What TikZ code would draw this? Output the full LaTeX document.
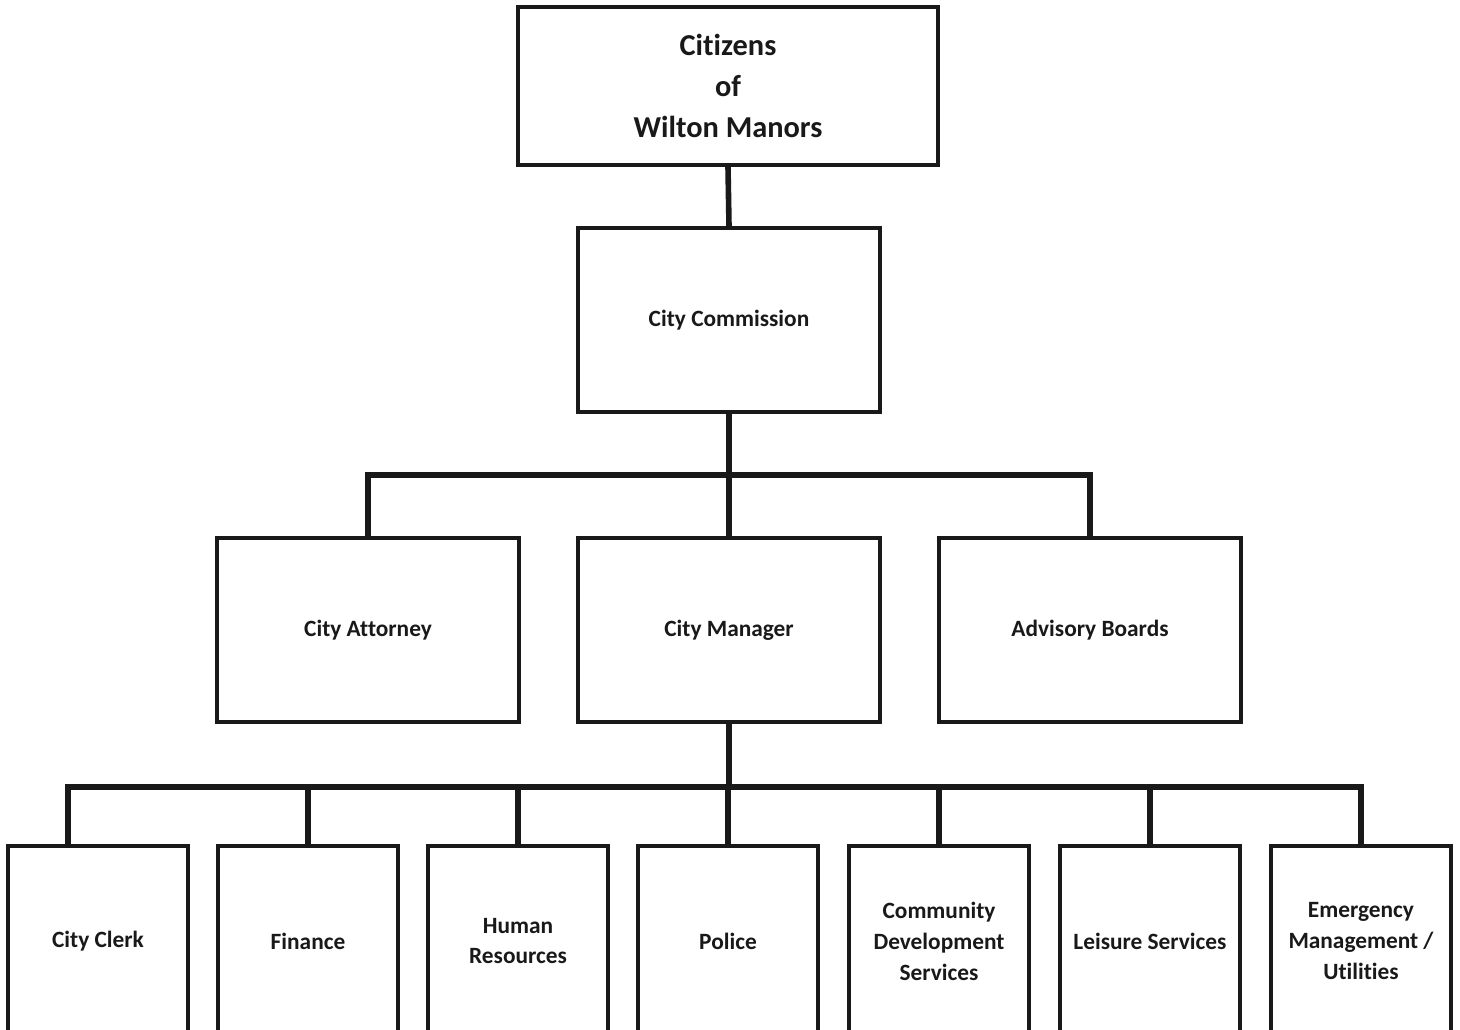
\documentclass[tikz,border=0pt]{standalone}
\usepackage{fontspec}
\setmainfont{Carlito}[Ligatures=NoCommon]
\usepackage{tikz}
\usetikzlibrary{calc}

\tikzset{
  box/.style={draw=black!90, text=black!90, line width=0.11cm, fill=white, align=center,
    font=\bfseries\fontsize{16.6}{22}\selectfont, inner sep=0pt},
  midbox/.style={box, minimum width=302*0.025cm, minimum height=184*0.025cm},
  deptbox/.style={box, minimum width=180*0.025cm, minimum height=190*0.025cm},
  link/.style={draw=black!90, line width=0.14cm}
}

\begin{document}
\begin{tikzpicture}[x=0.025cm,y=-0.025cm]
        \useasboundingbox (0,0) rectangle (1460,1030);
        \clip (0,0) rectangle (1460,1030);
        % top levels
        \node[box, minimum width=420*0.025cm, minimum height=158*0.025cm,
              font=\bfseries\fontsize{21.6}{29}\selectfont] (citizens) at (728,86) {Citizens\\of\\Wilton Manors};
        \node[midbox] (commission) at (729,320) {City Commission};
        % middle row
        \node[midbox] (attorney) at (368,630) {City Attorney};
        \node[midbox] (manager) at (729,630) {City Manager};
        \node[midbox] (advisory) at (1090,630) {Advisory Boards};
        % departments
        \node[deptbox] (clerk) at (98,941) {City Clerk};
        \node[deptbox] (finance) at (308,941) {Finance};
        \node[deptbox] (hr) at (518,941) {Human\\Resources};
        \node[deptbox] (police) at (728,941) {Police};
        \node[deptbox] (community) at (939,941) {Community\\Development\\Services};
        \node[deptbox] (leisure) at (1150,941) {Leisure Services};
        \node[deptbox] (emergency) at (1361,941) {Emergency\\Management /\\Utilities};
        % connectors
        \coordinate (busA) at (729,475);
        \coordinate (busB) at (729,787);
        \coordinate (clerkin) at (68,848);
        \draw[link] (citizens.south) -- (commission.north);
        \draw[link] (commission.south) -- (busA) -- (manager.north);
        \draw[link] (attorney.north) |- (busA) -| (advisory.north);
        \draw[link] (manager.south) -- (busB);
        \draw[link] (clerkin) |- (busB) -| (emergency.north);
        \foreach \n in {finance,hr,police,community,leisure}
            \draw[link] (\n.north) -- (\n.north |- busB);
    \end{tikzpicture}
\end{document}
